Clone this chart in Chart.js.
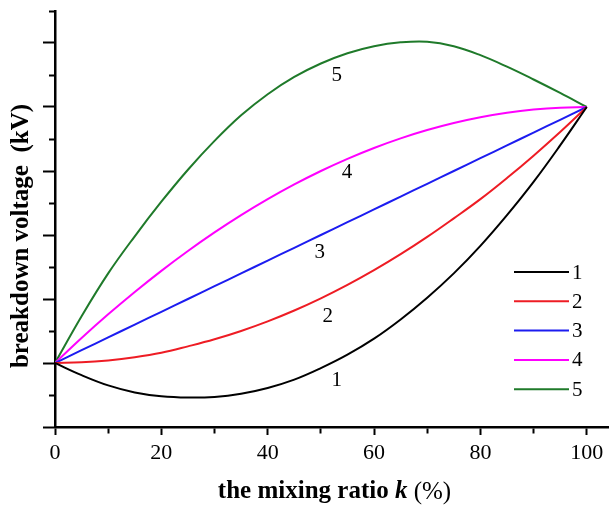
<!DOCTYPE html>
<html>
<head>
<meta charset="utf-8">
<script src="https://cdn.jsdelivr.net/npm/chart.js@4.4.0/dist/chart.umd.min.js"></script>
<style>
  html, body { margin: 0; background: #fff; }
</style>
</head>
<body>
<canvas id="breakdown" width="610" height="507"></canvas>
<script>
// mixing ratio k (%)
const ratio = [0, 5, 10, 15, 20, 25, 30, 35, 40, 45, 50, 55, 60, 65, 70, 75, 80, 85, 90, 95, 100];
// breakdown voltage, arbitrary units (one major y tick = 1)
const curve1 = [0, -0.19, -0.35, -0.46, -0.52, -0.54, -0.53, -0.48, -0.39, -0.26, -0.08, 0.13, 0.38, 0.68, 1.02, 1.40, 1.83, 2.31, 2.83, 3.40, 4.0];
const curve2 = [0, 0.01, 0.04, 0.09, 0.16, 0.26, 0.37, 0.50, 0.65, 0.82, 1.01, 1.22, 1.45, 1.70, 1.97, 2.26, 2.56, 2.89, 3.24, 3.61, 4.0];
const curve3 = [0, 0.2, 0.4, 0.6, 0.8, 1.0, 1.2, 1.4, 1.6, 1.8, 2.0, 2.2, 2.4, 2.6, 2.8, 3.0, 3.2, 3.4, 3.6, 3.8, 4.0];
const curve4 = [0, 0.39, 0.76, 1.11, 1.44, 1.75, 2.04, 2.31, 2.56, 2.79, 3.0, 3.19, 3.36, 3.51, 3.64, 3.75, 3.84, 3.91, 3.96, 3.99, 4.0];
const curve5 = [0, 0.73, 1.40, 1.98, 2.52, 3.02, 3.47, 3.87, 4.20, 4.47, 4.68, 4.84, 4.95, 5.01, 5.02, 4.95, 4.81, 4.63, 4.43, 4.22, 4.0];

const curveNames = ['1', '2', '3', '4', '5'];
const curveColors = ['#000000', '#ee1c24', '#1c1cf0', '#ff00ff', '#1f7a2a'];
// where the number tags sit beside each curve (data coordinates)
const tagX = [53, 51.3, 49.8, 54.9, 53];
const tagY = [-0.28, 0.72, 1.73, 2.97, 4.5];
const labeledTicks = [0, 20, 40, 60, 80, 100];

const serif = '"Liberation Serif", "Times New Roman", serif';

const annotate = {
  id: 'annotate',
  afterDraw(chart) {
    const { ctx, chartArea } = chart;
    const x = chart.scales.x;
    const y = chart.scales.y;
    ctx.save();
    ctx.fillStyle = '#000';
    ctx.font = '21px ' + serif;
    ctx.textAlign = 'center';
    ctx.textBaseline = 'middle';
    curveNames.forEach((name, i) => {
      ctx.fillText(name, x.getPixelForValue(tagX[i]), y.getPixelForValue(tagY[i]));
    });

    // legend, lower right inside the plot
    ctx.textAlign = 'left';
    const lx = chartArea.right - 94;
    let ly = chartArea.bottom - 155;
    chart.data.datasets.forEach((ds) => {
      ctx.strokeStyle = ds.borderColor;
      ctx.lineWidth = 2;
      ctx.beginPath();
      ctx.moveTo(lx, ly);
      ctx.lineTo(lx + 55, ly);
      ctx.stroke();
      ctx.fillText(ds.label, lx + 58, ly + 1);
      ly += 29.3;
    });

    // x title with italic k
    const parts = [
      ['the mixing ratio ', 'bold 25px ' + serif],
      ['k', 'italic bold 25px ' + serif],
      [' (%)', '25px ' + serif]
    ];
    let total = 0;
    parts.forEach(p => { ctx.font = p[1]; total += ctx.measureText(p[0]).width; });
    let tx = (chartArea.left + chartArea.right) / 2 + 3 - total / 2;
    parts.forEach(p => {
      ctx.font = p[1];
      ctx.fillText(p[0], tx, 492);
      tx += ctx.measureText(p[0]).width;
    });

    // y title, sits a bit below the plot centre as in the original
    ctx.translate(22, (chartArea.top + chartArea.bottom) / 2 + 17);
    ctx.rotate(-Math.PI / 2);
    ctx.textAlign = 'center';
    ctx.font = 'bold 25px ' + serif;
    ctx.fillText('breakdown voltage  (kV)', 0, 0);
    ctx.restore();
  }
};

const sets = [curve1, curve2, curve3, curve4, curve5];

new Chart(document.getElementById('breakdown'), {
  type: 'line',
  data: {
    datasets: sets.map((vals, i) => ({
      label: curveNames[i],
      data: ratio.map((k, j) => ({ x: k, y: vals[j] })),
      borderColor: curveColors[i],
      borderWidth: 2,
      pointRadius: 0,
      tension: 0.4,
      fill: false
    }))
  },
  options: {
    responsive: false,
    animation: false,
    layout: { padding: { top: 11, right: 2, left: 0, bottom: 0 } },
    plugins: { legend: { display: false }, tooltip: { enabled: false } },
    scales: {
      x: {
        type: 'linear',
        min: 0,
        max: 104,
        afterFit(scale) { scale.height = 80; },
        border: { color: '#000', width: 2.5 },
        grid: {
          drawOnChartArea: false,
          tickLength: 8,
          tickColor: '#000',
          tickWidth: 2,
          tickBorderDash: (c) => (c.tick && c.tick.value % 20 === 0 ? [] : [5, 30])
        },
        ticks: {
          stepSize: 10,
          includeBounds: false,
          autoSkip: false,
          maxRotation: 0,
          padding: 5,
          color: '#000',
          font: { family: serif, size: 22 },
          callback: (v) => (labeledTicks.includes(v) ? String(v) : '')
        }
      },
      y: {
        min: -1,
        max: 5.5,
        afterFit(scale) { scale.width = 55; },
        border: { color: '#000', width: 2.5 },
        grid: {
          drawOnChartArea: false,
          tickLength: 12,
          tickColor: '#000',
          tickWidth: 2,
          tickBorderDash: (c) => (c.tick && Number.isInteger(c.tick.value) ? [] : [0, 6, 8, 30])
        },
        ticks: { stepSize: 0.5, display: false }
      }
    }
  },
  plugins: [annotate]
});
</script>
</body>
</html>
